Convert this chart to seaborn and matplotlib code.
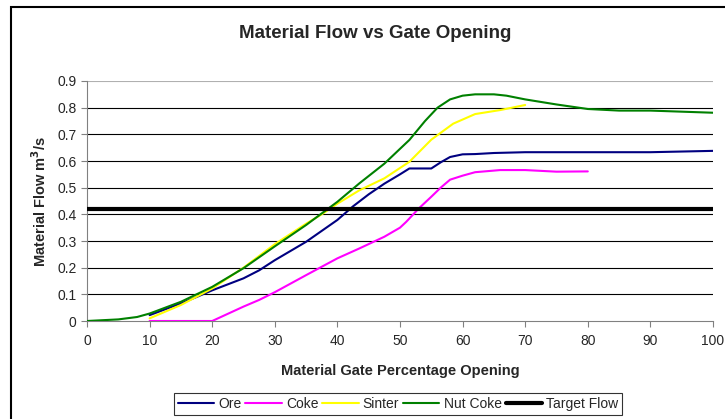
import matplotlib
matplotlib.use("Agg")
import matplotlib.pyplot as plt
import seaborn as sns
import numpy as np
import pandas as pd
from matplotlib.patches import Rectangle

# series (gate opening %, flow m3/s)
ore_x = [10, 15, 17.5, 20, 25, 27.5, 30, 35, 40, 42.5, 45, 47.5, 50, 51.5, 55, 56.5, 58, 60, 62, 65, 70, 80, 90, 100]
ore_y = [0.022, 0.066, 0.09, 0.115, 0.16, 0.19, 0.228, 0.297, 0.379, 0.43, 0.475, 0.515, 0.55, 0.572, 0.572, 0.595, 0.615, 0.625, 0.626, 0.63, 0.633, 0.633, 0.633, 0.638]

coke_x = [10, 20, 25, 27.5, 30, 35, 40, 43.5, 47.5, 50, 51, 53, 55, 56.5, 58, 60, 62, 66, 70, 75, 80]
coke_y = [0, 0, 0.054, 0.079, 0.108, 0.172, 0.235, 0.272, 0.316, 0.35, 0.372, 0.422, 0.466, 0.5, 0.53, 0.545, 0.558, 0.566, 0.566, 0.56, 0.561]

sinter_x = [10, 15, 20, 25, 30, 35, 37.5, 40, 43.5, 47.5, 51.5, 55, 58.5, 62, 66, 70]
sinter_y = [0.01, 0.06, 0.122, 0.2, 0.288, 0.365, 0.4, 0.44, 0.49, 0.535, 0.597, 0.68, 0.74, 0.776, 0.791, 0.81]

nut_x = [0, 5, 8, 10, 15, 20, 25, 30, 35, 40, 43.5, 47.5, 51.5, 54, 56, 58, 60, 62, 65, 67, 70, 75, 80, 85, 90, 95, 100]
nut_y = [0, 0.006, 0.015, 0.028, 0.072, 0.128, 0.198, 0.28, 0.36, 0.447, 0.516, 0.59, 0.679, 0.75, 0.8, 0.831, 0.845, 0.85, 0.85, 0.845, 0.831, 0.812, 0.795, 0.789, 0.789, 0.785, 0.781]

target_x = [0, 100]
target_y = [0.42, 0.42]

sns.set_style("white")
plt.rcParams['font.family'] = ['Liberation Sans', 'DejaVu Sans']

fig = plt.figure(figsize=(7.25, 4.19), dpi=100)
ax = fig.add_axes([87 / 725, 1 - 321 / 419, 626 / 725, 240 / 419])

# grid first so lines sit on top
for v in np.arange(0.1, 0.85, 0.1):
    ax.axhline(v, color='black', lw=0.8, zorder=1)
ax.axhline(0.9, color='#b0b0b0', lw=0.8, zorder=1)

series = [
    ('Ore', ore_x, ore_y, '#000080', 1.5),
    ('Coke', coke_x, coke_y, '#ff00ff', 1.5),
    ('Sinter', sinter_x, sinter_y, '#ffff00', 1.5),
    ('Nut Coke', nut_x, nut_y, '#008000', 1.5),
    ('Target Flow', target_x, target_y, 'black', 3),
]
for name, xs, ys, col, lw in series:
    sns.lineplot(x=xs, y=ys, ax=ax, color=col, lw=lw, label=name, zorder=3)

ax.set_xlim(0, 100)
ax.set_ylim(0, 0.9)
ax.set_xticks(np.arange(0, 101, 10))
ax.set_yticks(np.round(np.arange(0, 0.91, 0.1), 1))
ax.set_yticklabels(['0'] + [f'{v:.1f}' for v in np.arange(0.1, 0.91, 0.1)])
ax.tick_params(axis='both', labelsize=10, length=4, width=0.8, color='#808080',
               direction='out', bottom=True, left=True)
ax.tick_params(axis='x', pad=5)
for s in ['top', 'right']:
    ax.spines[s].set_visible(False)
for s in ['left', 'bottom']:
    ax.spines[s].set_color('#808080')
    ax.spines[s].set_linewidth(0.8)

ax.set_xlabel('Material Gate Percentage Opening', fontsize=10.5, fontweight='bold', labelpad=12)
ax.set_ylabel('Material Flow m$^{\\mathbf{3}}$/s', fontsize=10.5, fontweight='bold', labelpad=6)
fig.text(375 / 725, 1 - 33 / 419, 'Material Flow vs Gate Opening', ha='center', va='center',
         fontsize=13.5, fontweight='bold')

leg = ax.legend(loc='upper center', bbox_to_anchor=((398 - 87) / 626, -(393 - 321) / 240), ncol=5,
                frameon=True, fancybox=False, edgecolor='black', fontsize=10,
                handlelength=2.6, handletextpad=0.3, columnspacing=0.3, borderpad=0.3,
                borderaxespad=0)
leg.get_frame().set_linewidth(0.8)

# outer chart frame
fig.patches.append(Rectangle((11 / 725, -0.2), 1.2, 1.2 - 7 / 419, transform=fig.transFigure,
                             fill=False, edgecolor='black', lw=1.5))

fig.savefig('out.png', dpi=100)
